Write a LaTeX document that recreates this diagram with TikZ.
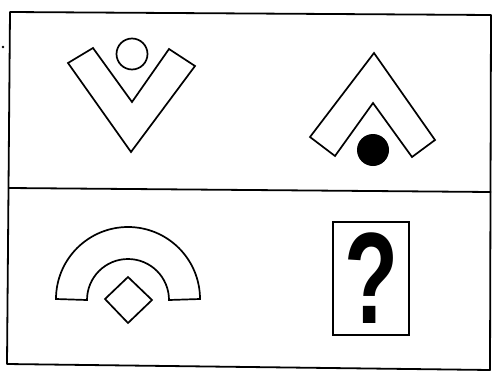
\documentclass[tikz,border=0pt]{standalone}
\usepackage{fontspec}
\setsansfont{Liberation Sans}
\usetikzlibrary{positioning}

\begin{document}
\begin{tikzpicture}[x=1pt, y=-1pt,
      frame/.style={line width=1.8pt, line join=round},
      figline/.style={line width=1.7pt, line join=miter},
      qbox/.style={draw, line width=1.7pt, minimum width=76pt, minimum height=113pt, inner sep=0pt}
    ]
      \useasboundingbox (0,0) rectangle (497,383);

      % outer frame and middle rule
      \draw[frame] (10,12) -- (491,15) -- (490,370) -- (7,364) -- cycle;
      \draw[frame] (9,188) -- (491,192);
      \fill (3,47) circle (1.3pt);

      % Figure 1: V with open circle
      \draw[figline] (68,63) -- (93,48) -- (132,102) -- (169,49) -- (195,66) -- (131,152) -- cycle;
      \draw[figline] (132,54) circle (15.5);

      % Figure 2: caret with black disc
      \draw[figline] (374,53) -- (435,140) -- (412,157) -- (373,103) -- (335,156) -- (310,137) -- cycle;
      \fill (373,150) circle (16);

      % Figure 3: arch with diamond
      \draw[figline] (56,299) arc[start angle=180, end angle=360, radius=72]
        -- (169,300) arc[start angle=0, end angle=-180, radius=41] -- cycle;
      \draw[figline] (128,277) -- (152,300) -- (128,323) -- (105,299) -- cycle;

      % Figure 4: question
      \node[qbox] (qbox) at (371,278.5) {};
      \node[font=\sffamily\bfseries\fontsize{130}{130}\selectfont, xscale=0.68, inner sep=0pt] (qmark) at (qbox.center) {?};
    \end{tikzpicture}
\end{document}
